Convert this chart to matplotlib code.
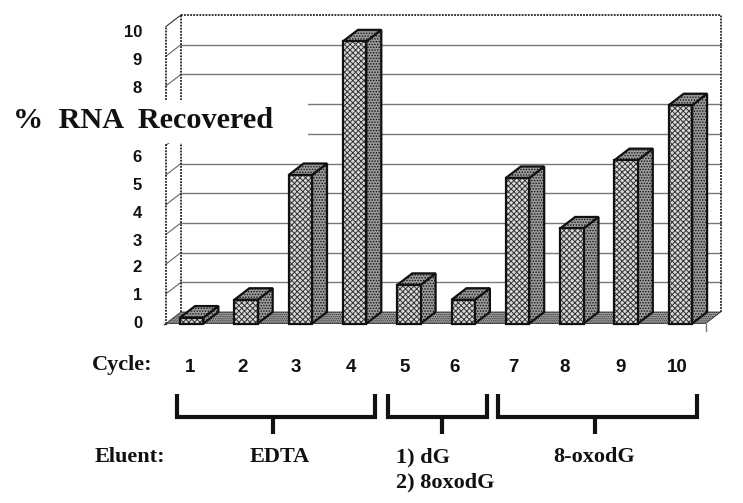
import matplotlib
matplotlib.use('Agg')
import matplotlib.pyplot as plt
from matplotlib.patches import Rectangle

# data
cycles = [1, 2, 3, 4, 5, 6, 7, 8, 9, 10]
recovered = [0.2, 0.8, 5.0, 9.5, 1.3, 0.8, 4.9, 3.2, 5.5, 7.35]
grid_values = [1, 2, 3, 4, 5, 6, 7, 8, 9]
# the 7 is hidden by the pasted title in the original
tick_labels = ['0', '1', '2', '3', '4', '5', '6', '8', '9', '10']
cycle_labels = ['1', '2', '3', '4', '5', '6', '7', '8', '9', '10']

# layout, in pixels of the 743x503 picture
W, H = 743, 503
PX_UNIT_X = 54.3
PX_UNIT_Y = 29.7
PX_X1 = 192.0   # centre of bar 1
PX_Y0 = 323.5   # value 0 on the front plane
tick_y_px = [323, 296, 268, 241, 213, 185, 157, 88, 60, 32]
cycle_x_px = [190, 243, 296, 351, 405, 455, 513, 565, 621, 677]

plt.rcParams['hatch.linewidth'] = 0.7
SANS = 'Liberation Sans'
SERIF = 'Liberation Serif'

fig = plt.figure(figsize=(W / 100, H / 100), dpi=100)
ax = fig.add_axes([0, 0, 1, 1])
ax.set_xlim((0 - PX_X1) / PX_UNIT_X + 1, (W - PX_X1) / PX_UNIT_X + 1)
ax.set_ylim((PX_Y0 - H) / PX_UNIT_Y, PX_Y0 / PX_UNIT_Y)
ax.axis('off')

dx = 15 / PX_UNIT_X
dy = 11.5 / PX_UNIT_Y
bar_w = 0.43
left = 0.52
right = 10.46
top = 10.0

# back wall grid and the slants on the left wall
for v in grid_values:
    ax.plot([left + dx, right + dx], [v + dy, v + dy], color='#777777', lw=1, zorder=1)
    ax.plot([left, left + dx], [v, v + dy], color='#666666', lw=0.8, zorder=1)
ax.plot([left, left + dx], [top, top + dy], color='#333333', lw=0.8, zorder=1)

# dotted frame
dotted = dict(color='#222222', lw=1.3, ls=(0, (1, 0.7)), zorder=2)
ax.plot([left + dx, right + dx], [top + dy, top + dy], **dotted)
ax.plot([right + dx, right + dx], [dy, top + dy], **dotted)
ax.plot([left + dx, left + dx], [dy, top + dy], **dotted)
ax.plot([left, left], [0, top], **dotted)

# floor
ax.fill([left, left + dx, right + dx, right], [0, dy, dy, 0],
        facecolor='#a0a0a0', edgecolor='#333333', hatch='........', lw=0.6, zorder=3)
ax.plot([left - 0.04, left], [0, 0], color='#333333', lw=1, zorder=3)
ax.plot([right, right], [0, -0.25], color='#777777', lw=1, zorder=3)

# bars: side and top first, then front
for c, v in zip(cycles, recovered):
    x0 = c - bar_w / 2 - 0.005
    x1 = x0 + bar_w
    ax.fill([x1, x1 + dx, x1 + dx, x1], [0, dy, v + dy, v],
            facecolor='#9a9a9a', edgecolor='#111111', hatch='......', lw=1.6, zorder=4)
    ax.fill([x0, x0 + dx, x1 + dx, x1], [v, v + dy, v + dy, v],
            facecolor='#9a9a9a', edgecolor='#111111', hatch='......', lw=1.6, zorder=4)
    ax.add_patch(Rectangle((x0, 0), bar_w, v, facecolor='#d8d8d8', edgecolor='#333333',
                           hatch='xxxxxx', lw=0, zorder=5))
    ax.add_patch(Rectangle((x0, 0), bar_w, v, fill=False, edgecolor='#111111', lw=1.6, zorder=6))

# overlay in picture pixels for the pasted-on labels
ov = fig.add_axes([0, 0, 1, 1])
ov.set_xlim(0, W)
ov.set_ylim(H, 0)
ov.axis('off')
ov.patch.set_alpha(0)

for lab, y in zip(tick_labels, tick_y_px):
    ov.text(142, y, lab, ha='right', va='center', family=SANS, weight='bold',
            fontsize=12, color='#111111', zorder=1)

# title sits on a white patch that hides the grid behind it
ov.add_patch(Rectangle((10, 100), 298, 43, facecolor='white', edgecolor='none', zorder=2))
ov.text(13, 120, '%  RNA  Recovered', ha='left', va='center', family=SERIF, weight='bold',
        fontsize=21.8, color='#111111', zorder=3)

ov.text(92, 365, 'Cycle:', ha='left', va='center', family=SERIF, weight='bold',
        fontsize=16, color='#111111')
for lab, x in zip(cycle_labels, cycle_x_px):
    ov.text(x, 367, lab, ha='center', va='center', family=SANS, weight='bold',
            fontsize=13.5, color='#111111')

# brackets: left, right, stem
brackets = [(176.5, 374.5, 273), (388, 486.5, 442), (498, 697, 595)]
for a, b, s in brackets:
    ov.plot([a, a, b, b], [394, 417, 417, 394], color='#111111', lw=3, solid_joinstyle='miter',
            solid_capstyle='butt')
    ov.plot([s, s], [417, 434], color='#111111', lw=3, solid_capstyle='butt')

serif_kw = dict(family=SERIF, weight='bold', fontsize=16, color='#111111', va='center')
ov.text(95, 457, 'Eluent:', ha='left', **serif_kw)
ov.text(280, 457, 'EDTA', ha='center', **serif_kw)
ov.text(396, 457, '1) dG', ha='left', **serif_kw)
ov.text(396, 482, '2) 8oxodG', ha='left', **serif_kw)
ov.text(594, 457, '8-oxodG', ha='center', **serif_kw)

fig.savefig('out.png', dpi=100)
